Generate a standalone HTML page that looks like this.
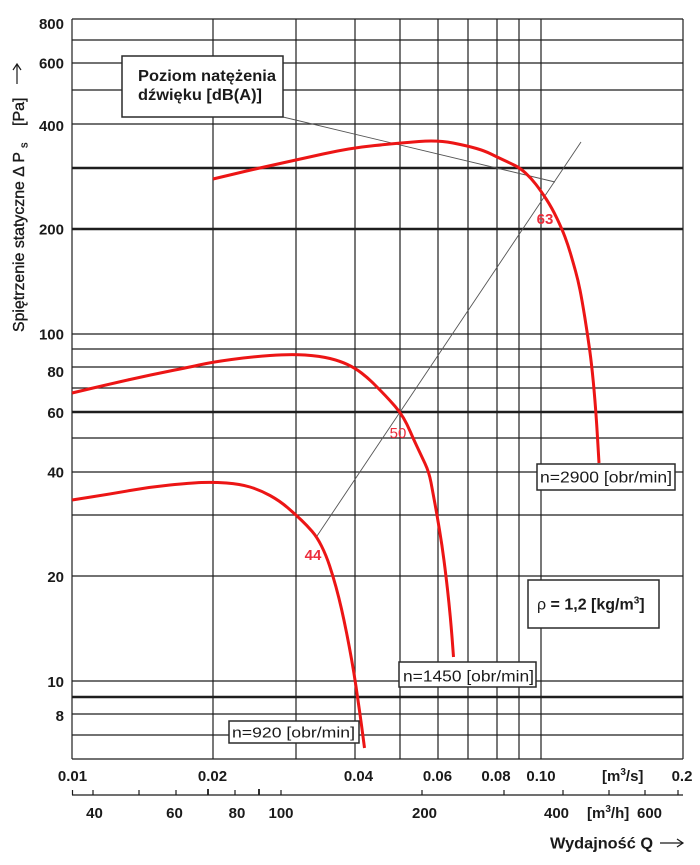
<!DOCTYPE html>
<html>
<head>
<meta charset="utf-8">
<style>
html,body{margin:0;padding:0;background:#fff;}
svg{display:block;}
text{font-family:"Liberation Sans",Arial,sans-serif;fill:#1a1a1a;}
.b{font-weight:bold;}
</style>
</head>
<body>
<svg width="700" height="865" viewBox="0 0 700 865" xmlns="http://www.w3.org/2000/svg">
<rect width="700" height="865" fill="#fff"/>
<!-- horizontal grid -->
<g stroke="#1e1e1e" stroke-width="1.2" fill="none">
<line x1="72" y1="19" x2="683" y2="19"/>
<line x1="72" y1="40" x2="683" y2="40"/>
<line x1="72" y1="63" x2="683" y2="63"/>
<line x1="72" y1="90" x2="683" y2="90"/>
<line x1="72" y1="124" x2="683" y2="124"/>
<line x1="72" y1="334" x2="683" y2="334"/>
<line x1="72" y1="349" x2="683" y2="349"/>
<line x1="72" y1="367" x2="683" y2="367"/>
<line x1="72" y1="388" x2="683" y2="388"/>
<line x1="72" y1="438" x2="683" y2="438"/>
<line x1="72" y1="472" x2="683" y2="472"/>
<line x1="72" y1="515" x2="683" y2="515"/>
<line x1="72" y1="576" x2="683" y2="576"/>
<line x1="72" y1="681" x2="683" y2="681"/>
<line x1="72" y1="714" x2="683" y2="714"/>
<line x1="72" y1="735" x2="683" y2="735"/>
<line x1="72" y1="759" x2="683" y2="759"/>
</g>
<g stroke="#1e1e1e" stroke-width="2.4" fill="none">
<line x1="72" y1="168" x2="683" y2="168"/>
<line x1="72" y1="229" x2="683" y2="229"/>
<line x1="72" y1="412" x2="683" y2="412"/>
<line x1="72" y1="697" x2="683" y2="697"/>
</g>
<!-- vertical grid -->
<g stroke="#1e1e1e" stroke-width="1.2" fill="none">
<line x1="72" y1="19" x2="72" y2="759"/>
<line x1="213" y1="19" x2="213" y2="759"/>
<line x1="296" y1="19" x2="296" y2="759"/>
<line x1="355" y1="19" x2="355" y2="759"/>
<line x1="400" y1="19" x2="400" y2="759"/>
<line x1="438" y1="19" x2="438" y2="759"/>
<line x1="468" y1="19" x2="468" y2="759"/>
<line x1="497" y1="19" x2="497" y2="759"/>
<line x1="519" y1="19" x2="519" y2="759"/>
<line x1="541" y1="19" x2="541" y2="759"/>
<line x1="683" y1="19" x2="683" y2="759"/>
</g>

<!-- sound level lines -->
<line x1="317" y1="536" x2="581" y2="142" stroke="#555" stroke-width="0.9"/>
<line x1="283" y1="117" x2="555" y2="182" stroke="#555" stroke-width="0.9"/>

<!-- curves -->
<g stroke="#ec1515" stroke-width="3" fill="none" stroke-linejoin="round" stroke-linecap="butt">
<path d="M213,179 L234,174 Q255,169 275.5,164.5 Q296,160 323,154 Q350,148 375,145.5 Q400,143 419,141.5 Q438,140 453,143 Q468,146 476.5,148.5 Q485,151 491,154 Q497,157 503.5,160 Q510,163 515,165.5 Q520,168 525.5,173 Q531,178 536,184.5 Q541,191 546.5,199.5 Q552,208 557,218.5 Q562,229 565,237 Q568,245 570.5,253.5 Q573,262 575.5,271 Q578,280 580,290 Q582,300 584.75,317 Q587.5,334 589.75,350.5 Q592,367 594,389.5 Q596,412 597.5,437.5 L599,463"/>
<path d="M72,393 L91,388.5 Q110,384 130,379.5 Q150,375 170,371 Q190,367 201.5,364.5 Q213,362 231.5,359.5 Q250,357 270,355.5 Q290,354 305,355 Q320,356 330,358.5 Q340,361 347.5,364.5 Q355,368 361.5,373 Q368,378 374,384 Q380,390 385,395.25 Q390,400.5 395,406.25 Q400,412 403.5,418 Q407,424 410,431 Q413,438 417,446.5 Q421,455 425,463.5 Q429,472 431,482.5 Q433,493 435,504 Q437,515 439.5,530 Q442,545 444,560.5 Q446,576 447.5,589.5 Q449,603 450.25,616.5 Q451.5,630 452.5,643.5 L453.5,657"/>
<path d="M72,500 L91,497 Q110,494 130,490.5 Q150,487 170,485 Q190,483 201.5,482.5 Q213,482 226.5,483 Q240,484 250,487 Q260,490 270,495.5 Q280,501 288,508 Q296,515 301.5,520.25 Q307,525.5 312,531.25 Q317,537 321.5,546 Q326,555 329.5,565.5 Q333,576 336,587 Q339,598 341.5,609 Q344,620 346.5,632.5 Q349,645 351.5,659 Q354,673 356,686.5 Q358,700 359.75,712.5 Q361.5,725 363,736.5 L364.5,748"/>
</g>

<!-- dB labels -->
<g font-size="15">
<text x="545" y="224" text-anchor="middle" style="fill:#ec2d3c;font-weight:bold">63</text>
<text x="398" y="438" text-anchor="middle" style="fill:#ec2d3c">50</text>
<text x="313" y="560" text-anchor="middle" style="fill:#ec2d3c;font-weight:bold">44</text>
</g>

<!-- boxes -->
<g stroke="#2a2a2a" stroke-width="1.5" fill="#fff">
<rect x="122" y="56" width="161" height="61"/>
<rect x="537" y="464" width="138" height="26"/>
<rect x="399" y="662" width="137" height="25"/>
<rect x="229" y="721" width="130" height="22"/>
<rect x="528" y="580" width="131" height="48"/>
</g>
<text x="138" y="81" font-size="16" class="b" textLength="138" lengthAdjust="spacingAndGlyphs">Poziom natężenia</text>
<text x="138" y="100" font-size="16" class="b" textLength="124" lengthAdjust="spacingAndGlyphs">dźwięku [dB(A)]</text>
<text x="540" y="482.5" font-size="16" textLength="132" lengthAdjust="spacingAndGlyphs">n=2900 [obr/min]</text>
<text x="403" y="681.5" font-size="16" textLength="131" lengthAdjust="spacingAndGlyphs">n=1450 [obr/min]</text>
<text x="232" y="737.5" font-size="15" textLength="123" lengthAdjust="spacingAndGlyphs">n=920 [obr/min]</text>
<text x="537" y="609.5" font-size="16">ρ<tspan class="b"> = 1,2 [kg/m</tspan><tspan class="b" font-size="10" dy="-6">3</tspan><tspan class="b" dy="6">]</tspan></text>

<!-- y labels -->
<g font-size="15" class="b" text-anchor="end">
<text x="64" y="29">800</text>
<text x="64" y="68.5">600</text>
<text x="64" y="131">400</text>
<text x="64" y="234.5">200</text>
<text x="64" y="339.5">100</text>
<text x="64" y="377">80</text>
<text x="64" y="418">60</text>
<text x="64" y="477.5">40</text>
<text x="64" y="582">20</text>
<text x="64" y="687">10</text>
<text x="64" y="721">8</text>
</g>

<!-- y axis title -->
<g stroke="#1a1a1a" stroke-width="0.35">
<text transform="translate(24,332) rotate(-90)" font-size="16" textLength="180" lengthAdjust="spacingAndGlyphs">Spiętrzenie statyczne Δ P</text>
<text transform="translate(27.5,148) rotate(-90)" font-size="11">s</text>
<text transform="translate(24,126) rotate(-90)" font-size="16">[Pa]</text>
</g>
<g stroke="#1a1a1a" stroke-width="1.2" fill="none">
<line x1="17" y1="84" x2="17" y2="64"/>
<polyline points="13,70 17,64 21,70"/>
</g>

<!-- x labels m3/s -->
<g font-size="15" class="b" text-anchor="middle">
<text x="72.5" y="781">0.01</text>
<text x="212.5" y="781">0.02</text>
<text x="358.5" y="781">0.04</text>
<text x="437.5" y="781">0.06</text>
<text x="496" y="781">0.08</text>
<text x="541" y="781">0.10</text>
<text x="682" y="781">0.2</text>
</g>
<text x="602" y="781" font-size="15" class="b">[m<tspan font-size="10" dy="-6">3</tspan><tspan dy="6">/s]</tspan></text>

<!-- m3/h axis -->
<g stroke="#1a1a1a" stroke-width="1.2" fill="none">
<line x1="72" y1="795" x2="683" y2="795"/>
<line x1="72.5" y1="790" x2="72.5" y2="795"/>
<line x1="93" y1="790" x2="93" y2="795"/>
<line x1="139" y1="790" x2="139" y2="795"/>
<line x1="176" y1="790" x2="176" y2="795"/>
<line x1="208" y1="789" x2="208" y2="795" stroke-width="1.8"/>
<line x1="235" y1="790" x2="235" y2="795"/>
<line x1="259" y1="789" x2="259" y2="795" stroke-width="1.8"/>
<line x1="281" y1="790" x2="281" y2="795"/>
<line x1="422" y1="790" x2="422" y2="795"/>
<line x1="504" y1="790" x2="504" y2="795"/>
<line x1="563" y1="790" x2="563" y2="795"/>
<line x1="609" y1="790" x2="609" y2="795"/>
<line x1="645" y1="790" x2="645" y2="795"/>
<line x1="678" y1="790" x2="678" y2="795"/>
</g>
<g font-size="15" class="b" text-anchor="middle">
<text x="94.5" y="818">40</text>
<text x="174.5" y="818">60</text>
<text x="237" y="818">80</text>
<text x="281" y="818">100</text>
<text x="424.5" y="818">200</text>
<text x="556.5" y="818">400</text>
<text x="649.5" y="818">600</text>
</g>
<text x="587" y="818" font-size="15" class="b">[m<tspan font-size="10" dy="-6">3</tspan><tspan dy="6">/h]</tspan></text>

<!-- x axis title -->
<text x="550" y="848.5" font-size="16" class="b" textLength="103" lengthAdjust="spacingAndGlyphs">Wydajność Q</text>
<g stroke="#1a1a1a" stroke-width="1.2" fill="none">
<line x1="660" y1="843" x2="683" y2="843"/>
<polyline points="677,839 683,843 677,847"/>
</g>
</svg>
</body>
</html>
